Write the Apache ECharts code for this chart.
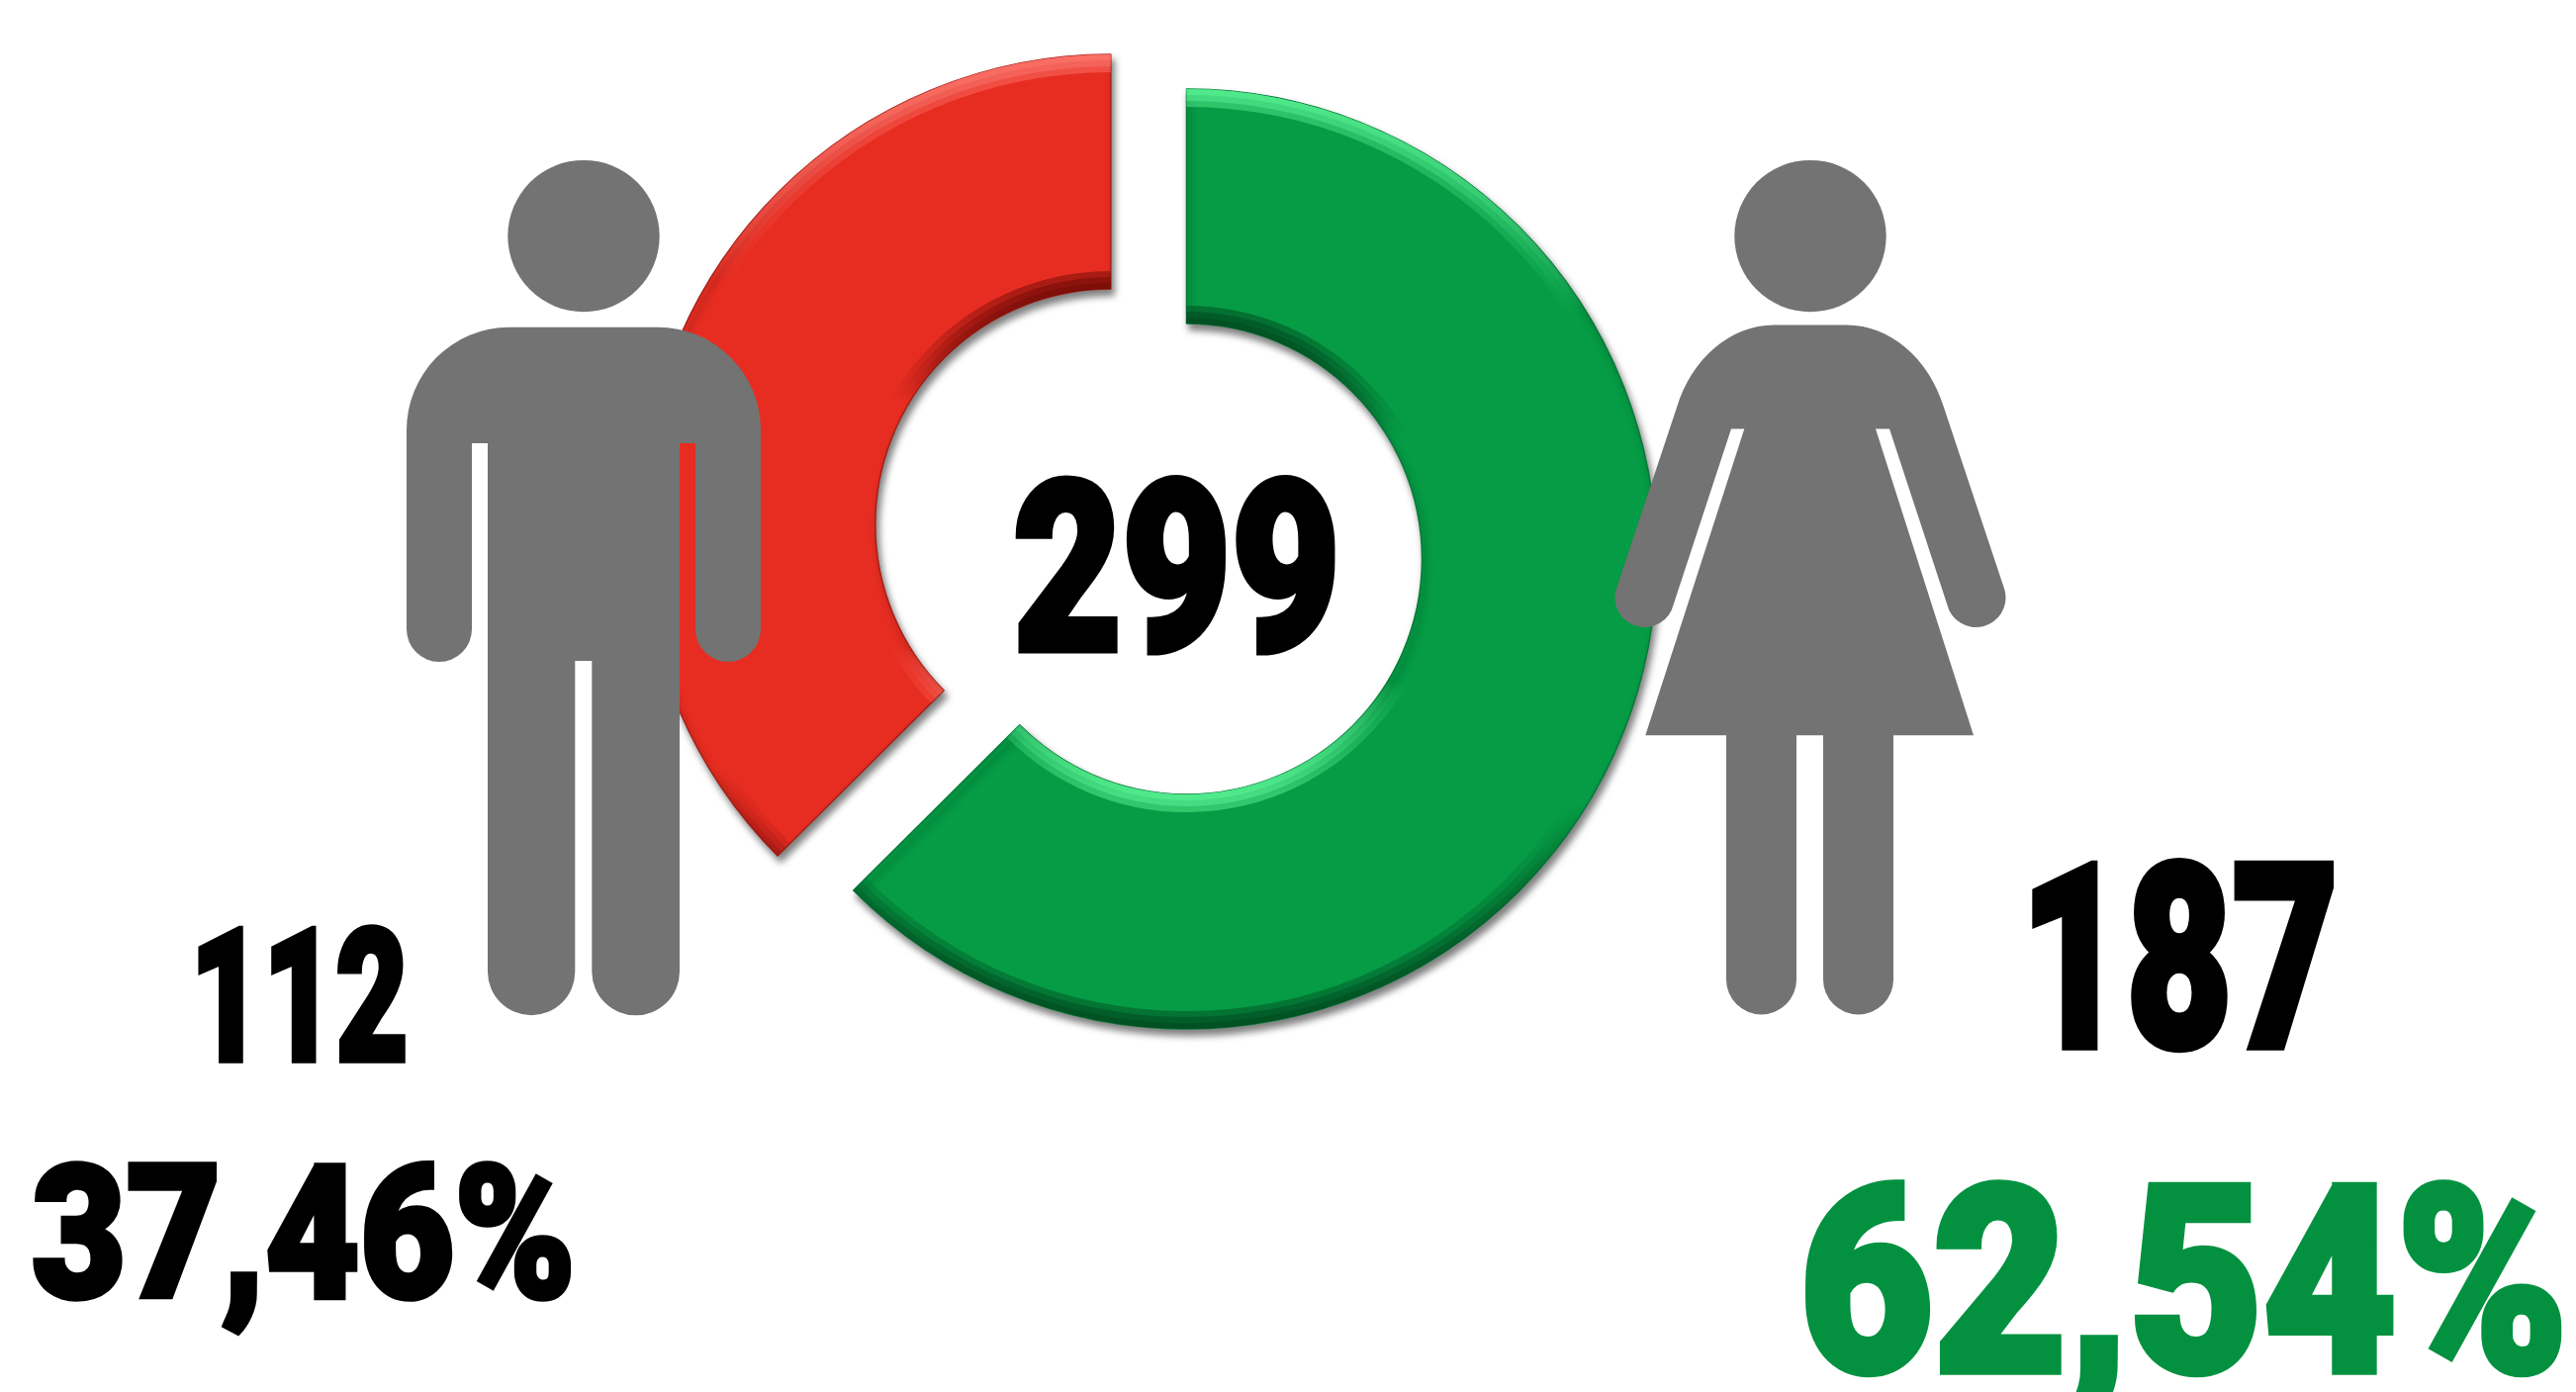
<!DOCTYPE html>
<html><head><meta charset="utf-8">
<style>html,body{margin:0;padding:0;background:#fff}#c{width:2604px;height:1407px}</style>
<script src="https://cdn.jsdelivr.net/npm/echarts@6/dist/echarts.min.js"></script>
</head><body><div id="c"></div>
<script>
const categories = ['Mujeres', 'Hombres'];
const counts = [187, 112];
const total = 299;
const shareLabels = ['62,54%', '37,46%'];

const chart = echarts.init(document.getElementById('c'), null, {renderer: 'canvas'});
const R = 475, r = 238;
const FONT = 'Roboto';

function grad(cy, rad, c0, c1) {
  return {type: 'linear', x: 0, y: cy - rad, x2: 0, y2: cy + rad, global: true,
    colorStops: [{offset: 0, color: c0}, {offset: .24, color: c0.replace(/[\d.]+\)$/, '0)')},
                 {offset: .76, color: c1.replace(/[\d.]+\)$/, '0)')}, {offset: 1, color: c1}]};
}
function ring(idx, center, radius, style) {
  return {
    type: 'pie', center, radius, startAngle: 90, clockwise: true, silent: true,
    animation: false, label: {show: false}, labelLine: {show: false},
    emphasis: {disabled: true},
    data: categories.map((name, i) => ({
      name, value: counts[i],
      itemStyle: i === idx ? style : {color: 'transparent', borderWidth: 0}
    }))
  };
}
function donut(idx, center, base, edge, light, dark) {
  const cy = center[1], out = [];
  out.push(ring(idx, center, [r, R], {color: base, borderColor: edge, borderWidth: 1.5,
    shadowColor: 'rgba(0,0,0,.5)', shadowBlur: 7, shadowOffsetX: 3, shadowOffsetY: 6}));
  [18, 12, 6].forEach(w => {
    out.push(ring(idx, center, [R - w, R], {color: grad(cy, R, light, dark)}));
    out.push(ring(idx, center, [r, r + w], {color: grad(cy, r, dark, light)}));
  });
  return out;
}
function label(text, x, cy, size, width, color) {
  const cv = document.createElement('canvas').getContext('2d');
  const font = '900 ' + size + 'px ' + FONT;
  cv.font = font;
  const sx = width / cv.measureText(text).width;
  return {type: 'text', z: 200, x, y: cy, scaleX: sx, silent: true,
    style: {text, font, fill: color, stroke: color, lineWidth: size * 0.03, textAlign: 'left', textVerticalAlign: 'middle'}};
}

const grey = '#737373';
const frame = 'M0 0 L0 0 M2604 1407 L2604 1407 ';
const man = frame + 'M515 330.7 L665 330.7 A104 104 0 0 1 769 435 L769 636 A33 33 0 0 1 703 636 L703 448 L687 448 L687 982 A44.3 44.3 0 0 1 598.3 982 L598.3 668 L581.3 668 L581.3 982 A44.1 44.1 0 0 1 493 982 L493 448 L477 448 L477 636 A33 33 0 0 1 411 636 L411 435 A104 104 0 0 1 515 330.7 Z';
const woman = frame + 'M1793 328.4 L1867 328.4 C1910 328.4 1950 362 1965 411.7 L2026.7 597 A30 30 0 0 1 1968.3 611 L1910 433.4 L1896 433.4 L1995 743.2 L1914 743.2 L1914 990 A35.5 35.5 0 0 1 1843 990 L1843 743.2 L1816 743.2 L1816 990 A35.5 35.5 0 0 1 1745 990 L1745 743.2 L1663.3 743.2 L1763.3 433.4 L1750 433.4 L1691.7 611 A30 30 0 0 1 1633.3 597 L1695 411.7 C1710 362 1750 328.4 1793 328.4 Z';

const figures = {
  type: 'custom', coordinateSystem: 'none', z: 100, silent: true, animation: false,
  data: [[0]],
  renderItem: () => ({type: 'group', children: [man, woman].map(p => ({
    type: 'path',
    shape: {pathData: p, layout: 'cover', x: 0, y: 0, width: 2604, height: 1407},
    style: {fill: grey}
  }))})
};

chart.setOption({
  backgroundColor: '#ffffff',
  series: [
    ...donut(1, [1122.8, 530], '#e72d22', '#a81f15', 'rgba(255,120,110,.5)', 'rgba(110,10,5,.5)'),
    ...donut(0, [1199.5, 565], '#059c45', '#067a38', 'rgba(90,245,150,.5)', 'rgba(0,70,30,.5)'),
    figures
  ],
  graphic: [
    {type: 'circle', z: 100, silent: true, shape: {cx: 590, cy: 238.6, r: 76.7}, style: {fill: grey}},
    {type: 'circle', z: 100, silent: true, shape: {cx: 1830, cy: 238.6, r: 76.7}, style: {fill: grey}},
    label(String(total), 1024, 597, 240, 331, '#000'),
    label(String(counts[1]), 192, 1025, 188, 221, '#000'),
    label(shareLabels[1], 32, 1264, 188, 550, '#000'),
    label(String(counts[0]), 2042, 993, 259, 322, '#000'),
    label(shareLabels[0], 1819, 1320, 263, 777, '#039140')
  ]
});
</script></body></html>
